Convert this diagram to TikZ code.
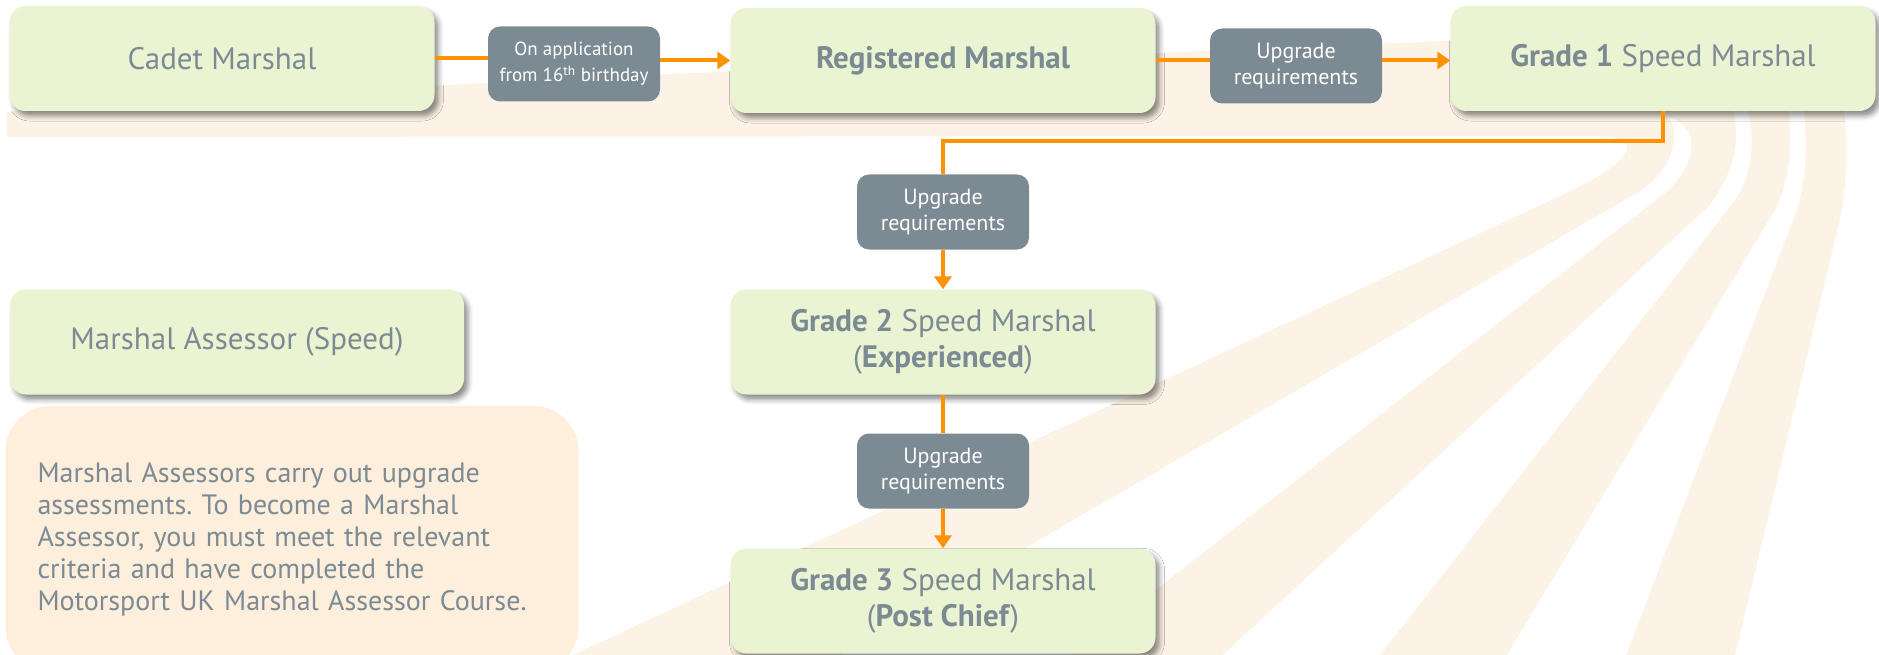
\documentclass[tikz,border=0pt]{standalone}
\usepackage{fontspec}
\setmainfont{PT Sans}
\usetikzlibrary{arrows.meta,shadows.blur}
\definecolor{boxgreen}{HTML}{EAF4D2}
\definecolor{slate}{HTML}{7C8A93}
\definecolor{tarmac}{HTML}{FDF2E6}
\definecolor{notefill}{HTML}{FEEEDC}
\definecolor{flag}{HTML}{FF9200}
\frenchspacing
\begin{document}
\begin{tikzpicture}[x=1pt,y=-1pt,
  grade/.style={rounded corners=16pt,fill=boxgreen,text=slate,inner sep=0pt,
    minimum width=425pt,minimum height=105pt,align=center,
    font=\fontsize{31}{36}\selectfont,
    blur shadow={shadow xshift=4pt,shadow yshift=-5pt,shadow blur radius=5pt,shadow opacity=45}},
  tag/.style={rounded corners=12pt,fill=slate,text=white,inner sep=0pt,
    minimum width=172pt,minimum height=75pt,align=center,
    font=\fontsize{22}{26}\selectfont},
  note/.style={rounded corners=45pt,fill=notefill,text=slate,inner xsep=32pt,inner ysep=0pt,
    text width=509pt,minimum height=266pt,align=left,
    font=\fontsize{28}{32}\selectfont},
  link/.style={flag,line width=4pt},
  arr/.style={link,-{Triangle[length=13pt,width=17pt]}}]
\useasboundingbox (0,0) rectangle (1879,655);
\fill[tarmac] (7,112) .. controls (600,70) and (1300,50) .. (1500,38) -- (1843,50)
  -- (1843,100) .. controls (1848,140) and (1847,180) .. (1841,215) -- (1735,655)
  -- (573,655) -- (1560,196) .. controls (1620,168) and (1655,140) .. (1600,136)
  -- (7,137) -- cycle;
\fill[white] (1667,117) .. controls (1682,128) and (1675,168) .. (1642,190) -- (841,655)
  -- (1072,655) -- (1666,192) .. controls (1700,160) and (1700,125) .. (1667,117) -- cycle;
\fill[white] (1731,100) .. controls (1742,140) and (1735,170) .. (1710,205) -- (1223,655)
  -- (1380,655) -- (1735,200) .. controls (1752,175) and (1757,140) .. (1745,100) -- cycle;
\fill[white] (1787,100) .. controls (1794,140) and (1790,180) .. (1775,210) -- (1507,655)
  -- (1626,655) -- (1795,215) .. controls (1806,185) and (1809,140) .. (1802,100) -- cycle;
\node[note] (note) at (292,539) {Marshal Assessors carry out upgrade\\assessments. To become a Marshal\\Assessor, you must meet the relevant\\criteria and have completed the\\Motorsport UK Marshal Assessor Course.};
\node[grade] (cadet) at (222,58.5) {Cadet Marshal};
\node[grade] (reg) at (943,60.5) {\textbf{Registered Marshal}};
\node[grade] (gone) at (1663,58.5) {\textbf{Grade 1} Speed Marshal};
\node[grade] (gtwo) at (943,342) {\textbf{Grade 2} Speed Marshal\\(\textbf{Experienced})};
\node[grade] (gthree) at (943,601) {\textbf{Grade 3} Speed Marshal\\(\textbf{Post Chief})};
\node[grade,minimum width=454pt] (assessor) at (237,342) {Marshal Assessor (Speed)};
\node[tag,font=\fontsize{19}{26}\selectfont] (lapp) at (574,64) {On application\\from 16\textsuperscript{th} birthday};
\node[tag] (lupa) at (1296,66) {Upgrade\\requirements};
\node[tag] (lupb) at (943,212) {Upgrade\\requirements};
\node[tag] (lupc) at (943,471) {Upgrade\\requirements};
\draw[link] (cadet.east) -- (cadet.east -| lapp.west);
\draw[arr] (lapp.east |- reg.west) -- (reg.west);
\draw[link] (reg.east) -- (reg.east -| lupa.west);
\draw[arr] (lupa.east |- reg.west) -- (gone.west |- reg.west);
\draw[link] (gone.south) -- ++(0,30) -| (lupb.north);
\draw[arr] (lupb.south) -- (gtwo.north);
\draw[link] (gtwo.south) -- (lupc.north);
\draw[arr] (lupc.south) -- (gthree.north);
\end{tikzpicture}
\end{document}
